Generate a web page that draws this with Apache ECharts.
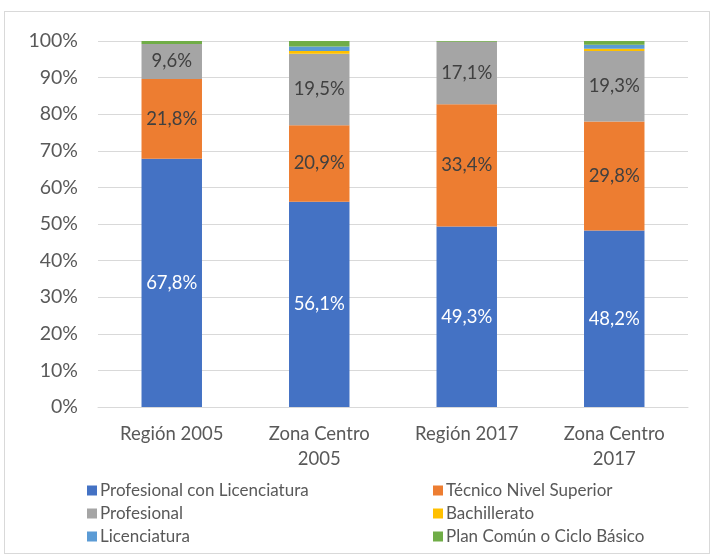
<!DOCTYPE html>
<html>
<head>
<meta charset="utf-8">
<script src="https://cdn.jsdelivr.net/npm/echarts@6/dist/echarts.min.js"></script>
<style>
  html, body { margin: 0; padding: 0; background: #fff; }
  #frame { position: absolute; left: 4px; top: 11px; width: 706px; height: 543px; border: 1px solid #d9d9d9; box-sizing: border-box; }
  #chart { position: absolute; left: 0; top: 0; width: 712px; height: 556px; }
</style>
</head>
<body>
<div id="frame"></div>
<div id="chart"></div>
<script>
const categories = ["Región 2005", "Zona Centro\n2005", "Región 2017", "Zona Centro\n2017"];
const profLicenciatura = [67.8, 56.1, 49.3, 48.2];
const tecnicoSuperior = [21.8, 20.9, 33.4, 29.8];
const profesional = [9.6, 19.5, 17.1, 19.3];
const bachillerato = [0, 0.8, 0, 0.6];
const licenciatura = [0, 1.2, 0, 1.1];
const planComun = [0.8, 1.5, 0.2, 1.0];
const yTicks = [0, 10, 20, 30, 40, 50, 60, 70, 80, 90, 100];

const font = "Lato, 'Noto Sans', sans-serif";

function bar(name, data, color, labelColor) {
  return {
    name,
    type: "bar",
    stack: "total",
    data,
    barCategoryGap: "59%",
    itemStyle: { color },
    label: labelColor ? {
      show: true,
      position: "inside",
      color: labelColor,
      fontSize: 18.5,
      fontFamily: font,
      formatter: (p) => p.value.toFixed(1).replace(".", ",") + "%"
    } : { show: false },
    emphasis: { disabled: true }
  };
}

const chart = echarts.init(document.getElementById("chart"));
const legendBase = {
  orient: "vertical",
  top: 477,
  height: 110,
  itemWidth: 10,
  itemHeight: 10,
  itemGap: 6,
  icon: "rect",
  textStyle: { color: "#595959", fontSize: 17, lineHeight: 14, fontFamily: font, padding: [0, 0, 0, -2] }
};

chart.setOption({
  animation: false,
  grid: { left: 98, right: 24, top: 41, bottom: 149 },
  legend: [
    Object.assign({}, legendBase, { left: 82, data: ["Profesional con Licenciatura", "Profesional", "Licenciatura"] }),
    Object.assign({}, legendBase, { left: 428, data: ["Técnico Nivel Superior", "Bachillerato", "Plan Común o Ciclo Básico"] })
  ],
  xAxis: {
    type: "category",
    data: categories,
    axisLine: { lineStyle: { color: "#d9d9d9" } },
    axisTick: { show: false },
    axisLabel: { color: "#595959", fontSize: 18.5, fontFamily: font, lineHeight: 25, margin: 15, interval: 0 }
  },
  yAxis: {
    type: "value",
    min: 0,
    max: 100,
    interval: 10,
    axisLine: { show: false },
    axisTick: { show: false },
    splitLine: { lineStyle: { color: "#d9d9d9" } },
    axisLabel: {
      color: "#595959",
      fontSize: 19.5,
      fontFamily: font,
      margin: 20,
      customValues: yTicks,
      formatter: (v) => v + "%"
    }
  },
  series: [
    bar("Profesional con Licenciatura", profLicenciatura, "#4472c4", "#ffffff"),
    bar("Técnico Nivel Superior", tecnicoSuperior, "#ed7d31", "#404040"),
    bar("Profesional", profesional, "#a5a5a5", "#404040"),
    bar("Bachillerato", bachillerato, "#ffc000"),
    bar("Licenciatura", licenciatura, "#5b9bd5"),
    bar("Plan Común o Ciclo Básico", planComun, "#70ad47")
  ]
});
</script>
</body>
</html>
